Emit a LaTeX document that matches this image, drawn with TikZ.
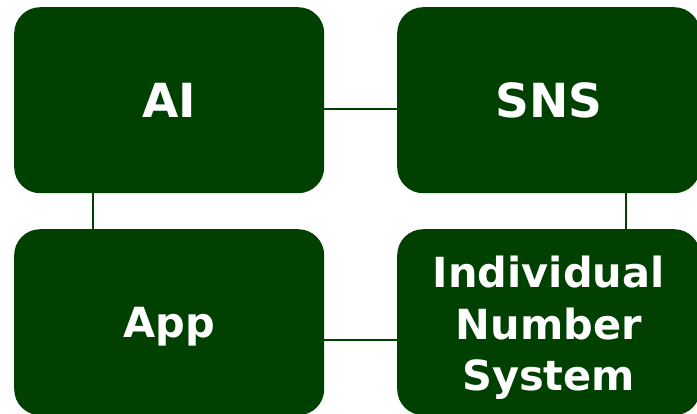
\documentclass[tikz,border=0pt]{standalone}
\usepackage{fontspec}
\setmainfont{DejaVu Sans}
\definecolor{boxgreen}{RGB}{0,64,0}

\begin{document}
\begin{tikzpicture}[x = 1pt, y = -1pt,
    tile/.style = {shape = rectangle, rounded corners = 26pt, fill = boxgreen, text = white,
        anchor = north west, inner sep = 0pt, align = center,
        font = \bfseries\fontsize{41.5}{51.5}\selectfont},
    link/.style = {draw = boxgreen, line width = 2.2pt}]
    \useasboundingbox (0,0) rectangle (697,413);
    \clip (0,0) rectangle (697,413);
    \node (AI) [tile, minimum width = 310pt, minimum height = 186pt, font = \bfseries\fontsize{47}{54}\selectfont] at (14,7) {AI};
    \node (SNS) [tile, minimum width = 303pt, minimum height = 186pt, font = \bfseries\fontsize{47}{54}\selectfont] at (397,7) {SNS};
    \node (App) [tile, minimum width = 310pt, minimum height = 186pt, text depth = 0pt] at (14,229) {App};
    \node (INS) [tile, minimum width = 303pt, minimum height = 186pt, text height = 146pt] at (397,229) {Individual\\Number\\System};
    \draw [link] ([yshift = -9pt]AI.east) -- ([yshift = -9pt]SNS.west);
    \draw [link] ([xshift = 79pt]AI.south west) -- ([xshift = 79pt]App.north west);
    \draw [link] ([xshift = 229pt]SNS.south west) -- ([xshift = 229pt]INS.north west);
    \draw [link] ([yshift = -18pt]App.east) -- ([yshift = -18pt]INS.west);
\end{tikzpicture}
\end{document}
